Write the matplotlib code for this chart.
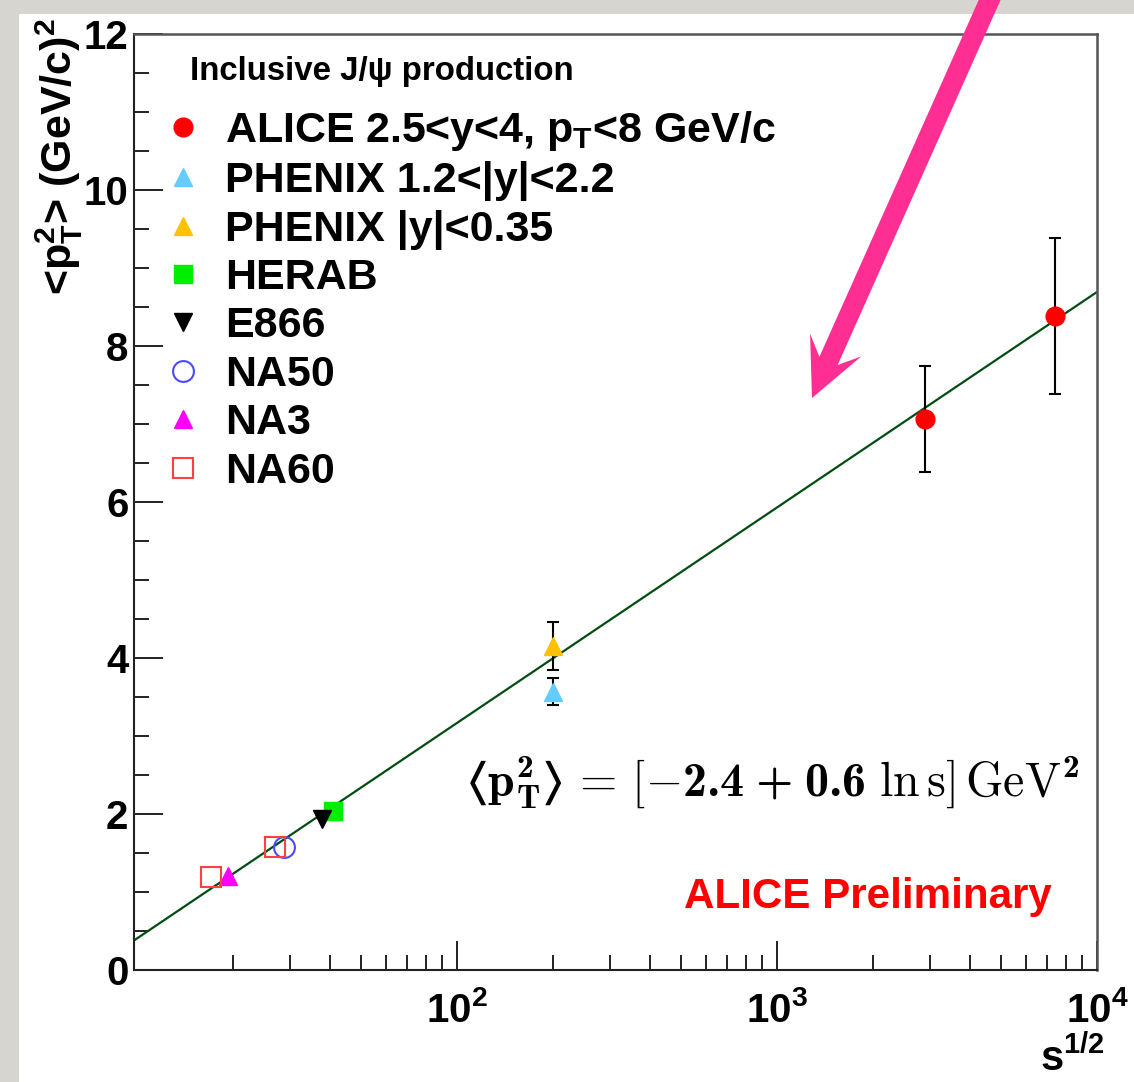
import numpy as np
import matplotlib
matplotlib.use('Agg')
import matplotlib.pyplot as plt
from matplotlib.patches import FancyArrow, Rectangle
from matplotlib.transforms import IdentityTransform
from matplotlib.ticker import FixedLocator, LogLocator, NullFormatter, MultipleLocator

plt.rcParams['font.family'] = ['Liberation Sans', 'DejaVu Sans']
plt.rcParams['font.weight'] = 'bold'
# math commands (only used in the fit formula) go to the Computer Modern ttfs
plt.rcParams['mathtext.fontset'] = 'custom'
plt.rcParams['mathtext.rm'] = 'cmr10'
plt.rcParams['mathtext.bf'] = 'cmb10'
plt.rcParams['mathtext.it'] = 'cmmi10'
plt.rcParams['mathtext.fallback'] = 'cm'
plt.rcParams['mathtext.default'] = 'regular'

# sqrt(s) in GeV, <pT^2> in (GeV/c)^2
alice_x = [2900, 7400]
alice_y = [7.06, 8.39]
alice_err = [0.68, 1.00]

phenix_fwd_x = [200]
phenix_fwd_y = [3.57]
phenix_fwd_err = [0.17]

phenix_mid_x = [200]
phenix_mid_y = [4.15]
phenix_mid_err = [0.31]

herab_x = [41.0]
herab_y = [2.04]
e866_x = [38.0]
e866_y = [1.94]
na50_x = [28.8]
na50_y = [1.58]
na3_x = [19.3]
na3_y = [1.21]
na60_x = [17.1, 27.0]
na60_y = [1.19, 1.58]

# <pT^2> = a + b ln s
fit_a = -2.36
fit_b = 0.6

x_min, x_max = 9.8, 1e4

W, H = 1134, 1082
fig = plt.figure(figsize=(W / 100, H / 100), dpi=100)
fig.patch.set_facecolor('#d7d5cf')
fig.add_artist(Rectangle((19 / W, 0), 1 - 19 / W, 1 - 14 / H, transform=fig.transFigure,
                         facecolor='white', edgecolor='none', zorder=0))

ax = fig.add_axes([134 / W, 112 / H, 963 / W, 936 / H])
ax.set_facecolor('white')
ax.set_xscale('log')
ax.set_xlim(x_min, x_max)
ax.set_ylim(0, 12)

# fit line
xf = np.array([x_min, x_max])
ax.plot(xf, fit_a + fit_b * np.log(xf ** 2), color='#004d12', lw=1.6, zorder=2)

# error bars
for xs, ys, es in [(alice_x, alice_y, alice_err), (phenix_fwd_x, phenix_fwd_y, phenix_fwd_err),
                   (phenix_mid_x, phenix_mid_y, phenix_mid_err)]:
    ax.errorbar(xs, ys, yerr=es, fmt='none', ecolor='black', elinewidth=1.5,
                capsize=4, capthick=1.5, zorder=3)

ax.plot(alice_x, alice_y, 'o', color='#ff0000', ms=13.5, mec='#ff0000', ls='none',
        label='ALICE 2.5<y<4, p$_T$<8 GeV/c', zorder=4)
ax.plot(phenix_fwd_x, phenix_fwd_y, '^', color='#66ccff', ms=13, mec='#66ccff', ls='none',
        label='PHENIX 1.2<|y|<2.2', zorder=4)
ax.plot(phenix_mid_x, phenix_mid_y, '^', color='#ffc200', ms=13, mec='#ffc200', ls='none',
        label='PHENIX |y|<0.35', zorder=4)
ax.plot(herab_x, herab_y, 's', color='#00ee00', ms=13.5, mec='#00ee00', ls='none',
        label='HERAB', zorder=4)
ax.plot(e866_x, e866_y, 'v', color='black', ms=13, ls='none', label='E866', zorder=4)
ax.plot(na50_x, na50_y, 'o', mfc='none', mec='#4a4aff', mew=1.5, ms=15, ls='none',
        label='NA50', zorder=4)
ax.plot(na3_x, na3_y, '^', color='#ff00ff', ms=13, mec='#ff00ff', ls='none',
        label='NA3', zorder=4)
ax.plot(na60_x, na60_y, 's', mfc='none', mec='#ff4040', mew=1.5, ms=15, ls='none',
        label='NA60', zorder=4)

# axes styling
for side in ['left', 'bottom']:
    ax.spines[side].set_color('#222222')
    ax.spines[side].set_linewidth(1.5)
for side in ['top', 'right']:
    ax.spines[side].set_color('#555555')
    ax.spines[side].set_linewidth(1.8)

ax.xaxis.set_major_locator(FixedLocator([1e2, 1e3, 1e4]))
ax.set_xticklabels(['$10^{2}$', '$10^{3}$', '$10^{4}$'])
ax.xaxis.set_minor_locator(LogLocator(base=10, subs=np.arange(2, 10)))
ax.xaxis.set_minor_formatter(NullFormatter())
ax.yaxis.set_major_locator(MultipleLocator(2))
ax.yaxis.set_minor_locator(MultipleLocator(0.5))

ax.tick_params(which='both', direction='in', top=False, right=False, width=1.4, color='#222222')
ax.tick_params(which='major', length=21)
ax.tick_params(which='minor', length=11)
ax.tick_params(axis='y', labelsize=29, pad=4)
ax.tick_params(axis='x', labelsize=29, pad=15)

# legend
ax.text(0.058, 0.951, 'Inclusive J/ψ production', transform=ax.transAxes,
        fontsize=23.8, ha='left', va='baseline')
ax.legend(loc='upper left', bbox_to_anchor=(0.029, 0.92), frameon=False, fontsize=31,
          handlelength=0.97, handletextpad=0.5, labelspacing=0.195, borderpad=0,
          borderaxespad=0)

ax.text(0.982, 0.185,
        r'$\langle\mathbf{p}^{\mathbf{2}}_{\mathbf{T}}\rangle\,=\,[\mathbf{-2.4}\;\mathbf{+}\;\mathbf{0.6}\ \mathrm{ln}\,\mathrm{s}]\,\mathrm{GeV}^{\mathbf{2}}$',
        transform=ax.transAxes, fontsize=34.5, fontfamily='cmr10', fontweight='normal',
        ha='right', va='baseline')
ax.text(0.953, 0.066, 'ALICE Preliminary', transform=ax.transAxes, fontsize=30.3,
        color='#ff0000', ha='right', va='baseline')

fig.text(59 / W, 1 - 18 / H, '<p$_{T}^{2}$> (GeV/c)$^{2}$', rotation=90, fontsize=31,
         ha='center', va='top')
fig.text(1105 / W, 1 - 1071 / H, 's$^{1/2}$', fontsize=30, ha='right', va='baseline')

# pink arrow (pixel coordinates, origin bottom-left)
tail = (995, H + 12)
tip = (812, H - 398)
fig.add_artist(FancyArrow(tail[0], tail[1], tip[0] - tail[0], tip[1] - tail[1],
                          width=20, head_width=56, head_length=58, overhang=0.3,
                          length_includes_head=True, color='#ff2e93', lw=0,
                          transform=IdentityTransform(), zorder=10))

fig.savefig('out.png', dpi=100, facecolor=fig.get_facecolor())
